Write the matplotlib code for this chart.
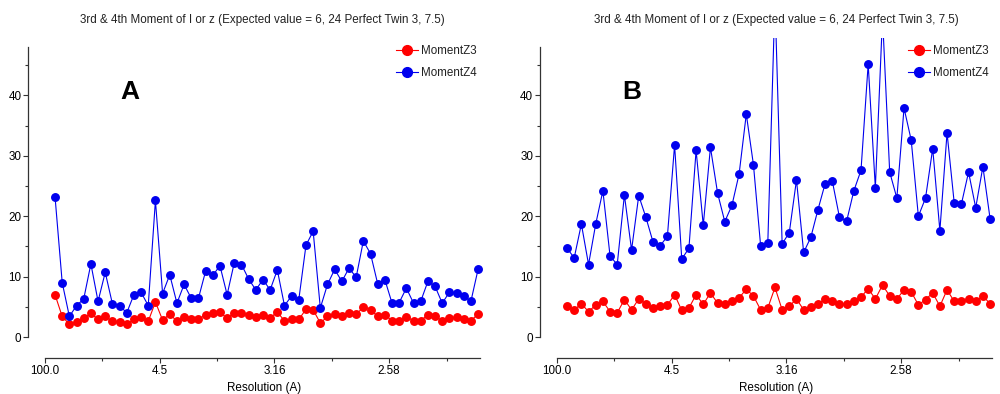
"""Third and fourth intensity moments vs resolution, two data sets (A, B)."""

import numpy as np
import matplotlib as mpl
import matplotlib.pyplot as plt
from matplotlib.ticker import FixedLocator

mpl.rcParams.update({
    "font.family": ["Liberation Sans", "DejaVu Sans"],
    "font.size": 8.4,
    "text.color": "#222222",
})

TITLE = "3rd & 4th Moment of I or z (Expected value = 6, 24 Perfect Twin 3, 7.5)"
XLABEL = "Resolution (A)"
TICK_LABELS = ["100.0", "4.5", "3.16", "2.58"]

# panel A, one value per resolution bin
a_z3 = [7.0, 3.4, 2.1, 2.5, 3.1, 3.9, 2.9, 3.4, 2.6, 2.5,
        2.1, 2.9, 3.3, 2.6, 5.8, 2.8, 3.8, 2.6, 3.3, 2.9,
        2.9, 3.7, 3.9, 4.1, 3.1, 4.0, 4.0, 3.6, 3.3, 3.6,
        3.2, 4.1, 2.7, 2.9, 2.9, 4.6, 4.5, 2.3, 3.4, 3.8,
        3.4, 4.0, 3.8, 4.9, 4.5, 3.4, 3.7, 2.7, 2.7, 3.3,
        2.7, 2.7, 3.7, 3.4, 2.7, 3.1, 3.3, 2.9, 2.7, 3.8]
a_z4 = [23.2, 9.0, 3.4, 5.2, 6.3, 12.1, 5.9, 10.7, 5.5, 5.2,
        4.0, 7.0, 7.4, 5.2, 22.6, 7.2, 10.3, 5.6, 8.7, 6.4,
        6.4, 10.9, 10.2, 11.8, 7.0, 12.3, 12.0, 9.6, 7.8, 9.5,
        7.8, 11.1, 5.2, 6.8, 6.2, 15.2, 17.5, 4.8, 8.7, 11.2,
        9.2, 11.4, 9.9, 15.9, 13.8, 8.8, 9.5, 5.6, 5.7, 8.1,
        5.6, 5.9, 9.2, 8.4, 5.6, 7.4, 7.3, 6.8, 5.9, 11.2]

# panel B
b_z3 = [5.1, 4.5, 5.5, 4.2, 5.3, 5.9, 4.2, 4.0, 6.2, 4.5,
        6.3, 5.5, 4.8, 5.1, 5.3, 7.0, 4.4, 4.8, 7.0, 5.4,
        7.3, 5.6, 5.4, 5.9, 6.5, 7.9, 6.8, 4.5, 4.8, 8.2,
        4.5, 5.1, 6.3, 4.5, 5.0, 5.4, 6.3, 6.0, 5.4, 5.4,
        5.9, 6.6, 8.0, 6.3, 8.6, 6.8, 6.3, 7.8, 7.5, 5.3,
        6.2, 7.3, 5.1, 7.8, 5.9, 5.9, 6.3, 5.9, 6.8, 5.5]
b_z4 = [14.7, 13.1, 18.7, 12.0, 18.7, 24.2, 13.4, 12.0, 23.5, 14.4,
        23.4, 19.8, 15.7, 15.1, 16.7, 31.8, 12.9, 14.7, 30.9, 18.5,
        31.4, 23.8, 19.1, 21.8, 27.0, 36.9, 28.5, 15.1, 15.5, 56.0,
        15.4, 17.3, 26.0, 14.0, 16.5, 21.1, 25.4, 25.8, 19.8, 19.2,
        24.2, 27.6, 45.2, 24.7, 53.0, 27.3, 23.0, 37.9, 32.6, 20.0,
        23.0, 31.2, 17.6, 33.8, 22.2, 22.0, 27.3, 21.4, 28.2, 19.6]

RED = "#ff0000"
BLUE = "#0000ee"


def draw(ax, z3, z4, letter, letter_x):
    x = np.arange(len(z3))
    ax.plot(x, z3, "-o", color=RED, lw=0.8, ms=5.4, mec=RED, label="MomentZ3")
    ax.plot(x, z4, "-o", color=BLUE, lw=0.8, ms=5.4, mec=BLUE, label="MomentZ4")

    ax.set_xlim(-1.4, 59.6)
    ax.set_ylim(0, 49.5)
    for side in ("top", "right"):
        ax.spines[side].set_visible(False)
    for side in ("left", "bottom"):
        ax.spines[side].set_color("#333333")
        ax.spines[side].set_linewidth(0.9)
    ax.spines["left"].set_position(("outward", 12))
    ax.spines["bottom"].set_position(("outward", 15))
    ax.spines["left"].set_bounds(0, 48)
    ax.spines["bottom"].set_bounds(-1.4, 59.2)

    ax.yaxis.set_major_locator(FixedLocator([0, 10, 20, 30, 40]))
    ax.yaxis.set_minor_locator(FixedLocator([5, 15, 25, 35, 45]))
    ax.xaxis.set_major_locator(FixedLocator([-1.4, 14.6, 30.6, 46.6]))
    ax.xaxis.set_minor_locator(FixedLocator([6.6, 22.6, 38.6, 54.6]))
    ax.set_xticklabels(TICK_LABELS)
    ax.tick_params(which="major", length=3.6, width=0.8, color="#333333", pad=1.5)
    ax.tick_params(which="minor", length=2.2, width=0.8, color="#333333")
    ax.set_xlabel(XLABEL, labelpad=4)

    ax.text(letter_x, 0.82, letter, transform=ax.transAxes, fontsize=19,
            fontweight="bold", color="black", ha="center", va="center")
    ax.legend(loc="upper right", bbox_to_anchor=(1.0, 0.995), frameon=False,
              handlelength=1.9, handletextpad=0.25, labelspacing=0.85,
              borderpad=0, markerscale=1.3, fontsize=8.4)


fig = plt.figure(figsize=(10, 3.94), dpi=100)
bottom = (394 - 337) / 394
height = (337 - 38) / 394
width = 61 * 7.17 / 1000
ax_a = fig.add_axes([0.045, bottom, width, height])
ax_b = fig.add_axes([0.557, bottom, width, height])
draw(ax_a, a_z3, a_z4, "A", 0.195)
draw(ax_b, b_z3, b_z4, "B", 0.172)

fig.text(0.262, 1 - 20 / 394, TITLE, ha="center", va="center", fontsize=8.4)
fig.text(0.776, 1 - 20 / 394, TITLE, ha="center", va="center", fontsize=8.4)

fig.savefig("out.png", dpi=100)
